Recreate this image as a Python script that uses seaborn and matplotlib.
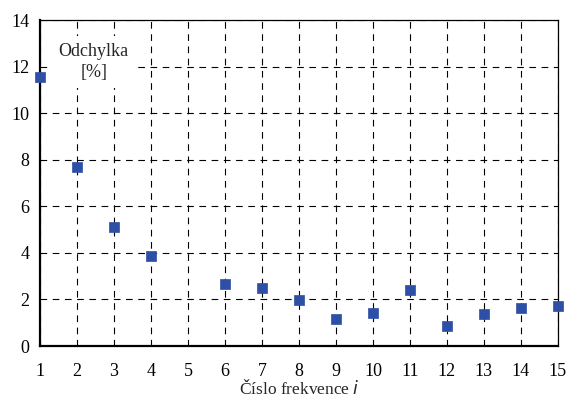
import matplotlib
matplotlib.use("Agg")
import matplotlib.pyplot as plt
import seaborn as sns
import pandas as pd

# Relative deviation for each frequency index
frekvence = [1, 2, 3, 4, 6, 7, 8, 9, 10, 11, 12, 13, 14, 15]
odchylka = [11.55, 7.68, 5.12, 3.86, 2.66, 2.49, 1.97, 1.16, 1.42, 2.40, 0.86, 1.39, 1.63, 1.72]
x_ticks = list(range(1, 16))
y_ticks = [0, 2, 4, 6, 8, 10, 12, 14]

df = pd.DataFrame({"i": frekvence, "odchylka": odchylka})

sns.set_style("white")
plt.rcParams["font.family"] = ["Liberation Serif", "DejaVu Serif"]

fig = plt.figure(figsize=(5.66, 4.01), dpi=100)
ax = fig.add_axes([0.0707, 0.137, 0.915, 0.813])

sns.scatterplot(data=df, x="i", y="odchylka", marker="s", s=55,
                color="#2E4FA6", edgecolor="#2E4FA6", linewidth=0.5,
                ax=ax, zorder=3, clip_on=False)

ax.set_xlim(1, 15)
ax.set_ylim(0, 14)
ax.set_xticks(x_ticks)
ax.set_yticks(y_ticks)
ax.grid(True, color="black", linestyle=(0, (6, 5)), linewidth=0.8)
ax.set_axisbelow(True)

for side in ["left", "bottom"]:
    ax.spines[side].set_linewidth(1.6)
    ax.spines[side].set_color("black")
for side in ["top", "right"]:
    ax.spines[side].set_linewidth(0.9)
    ax.spines[side].set_color("black")

ax.tick_params(axis="both", direction="inout", length=11, width=1.0,
               labelsize=13, colors="black")
ax.tick_params(axis="y", pad=2)
ax.tick_params(axis="x", pad=7)

ax.set_xlabel("Číslo frekvence $\\mathit{i}$", fontsize=12.5, labelpad=-1)
ax.set_ylabel("")

ax.text(2.45, 12.2, "Odchylka\n[%]", fontsize=13, ha="center", va="center",
        linespacing=1.35,
        bbox=dict(facecolor="white", edgecolor="none", pad=5), zorder=4)

fig.savefig("out.png", dpi=100)
